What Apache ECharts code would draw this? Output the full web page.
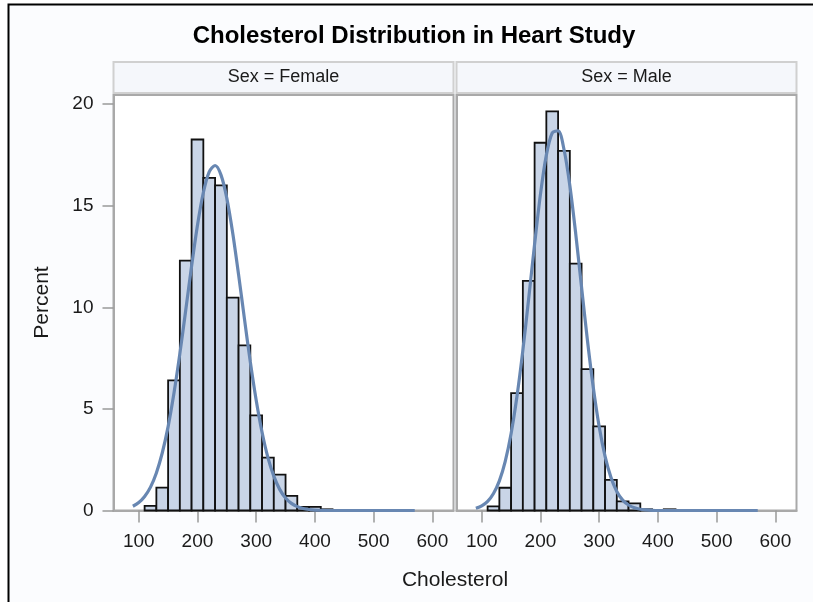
<!DOCTYPE html>
<html><head><meta charset="utf-8">
<script src="https://cdn.jsdelivr.net/npm/echarts@6/dist/echarts.min.js"></script>
<style>html,body{margin:0;padding:0;background:#fff}#c{width:813px;height:602px}</style>
</head><body><div id="c"></div>
<script>
const chartTitle = 'Cholesterol Distribution in Heart Study';
const panelLabels = ['Sex = Female', 'Sex = Male'];
const xTitle = 'Cholesterol';
const yTitle = 'Percent';
const binStarts = [110,130,150,170,190,210,230,250,270,290,310,330,350,370,390,410];
const binWidth = 20;
const femalePct = [0.23,1.13,6.4,12.3,18.26,16.37,16.0,10.48,8.13,4.68,2.6,1.77,0.72,0.18,0.18,0.06];
const malePct   = [0.2,1.12,5.78,11.3,18.1,19.64,17.7,12.15,6.96,4.14,1.51,0.45,0.35,0.06,0,0.06];
const curveX = [90,100,110,120,130,140,150,160,170,180,190,200,210,220,230,240,250,260,270,280,290,300,310,320,330,340,350,360,370,380,390,400,410,420,430,440,450,460,470,480,490,500,510,520,530,540,550,560,570];
const femaleCurve = [0.21,0.39,0.69,1.15,1.85,2.83,4.13,5.78,7.72,9.86,12.03,14.04,15.65,16.67,16.98,16.52,15.37,13.66,11.61,9.43,7.31,5.43,3.85,2.60,1.69,1.04,0.62,0.35,0.19,0.10,0.05,0.02,0.01,0,0,0,0,0,0,0,0,0,0,0,0,0,0,0,0];
const maleCurve   = [0.11,0.23,0.45,0.84,1.46,2.42,3.79,5.62,7.88,10.45,13.11,15.57,17.49,18.58,18.69,17.78,16.00,13.63,10.98,8.37,6.04,4.12,2.66,1.63,0.94,0.51,0.27,0.13,0.06,0.03,0.01,0,0,0,0,0,0,0,0,0,0,0,0,0,0,0,0,0,0];
const xTicks = [100,200,300,400,500,600];
const yTicks = [0,5,10,15,20];

const FONT = 'Liberation Sans, Arial, sans-serif';
const panels = [
  {left:113.5, pct:femalePct, curve:femaleCurve, label:panelLabels[0]},
  {left:456.5, pct:malePct, curve:maleCurve, label:panelLabels[1]}
];
const PW = 340, PT = 95, PH = 415.5;

const chart = echarts.init(document.getElementById('c'), null, {renderer:'canvas'});

function barRender(params, api){
  const p0 = api.coord([api.value(0), api.value(2)]);
  const p1 = api.coord([api.value(1), 0]);
  return {type:'rect', shape:{x:p0[0], y:p0[1], width:p1[0]-p0[0], height:p1[1]-p0[1]},
    style:{fill:'#c9d5e7', stroke:'#111', lineWidth:1.8}};
}

const grid = panels.map(p => ({left:p.left, top:PT, width:PW, height:PH, show:true,
  borderColor:'#a9a9a9', borderWidth:2, backgroundColor:'#fff'}));
const xAxis = panels.map((p,i) => ({type:'value', gridIndex:i, min:57, max:636,
  axisLine:{show:true, lineStyle:{color:'#a9a9a9', width:2}},
  axisTick:{show:true, customValues:xTicks, length:12, lineStyle:{color:'#999', width:1.5}},
  axisLabel:{show:true, customValues:xTicks, margin:22, fontSize:19, color:'#1a1a1a', fontFamily:FONT},
  splitLine:{show:false}}));
const yAxis = panels.map((p,i) => ({type:'value', gridIndex:i, min:0, max:20.45,
  axisLine:{show:true, lineStyle:{color:'#a9a9a9', width:2}},
  axisTick:{show:i===0, customValues:yTicks, length:11, lineStyle:{color:'#999', width:1.5}},
  axisLabel:{show:i===0, customValues:yTicks, margin:20, fontSize:19, color:'#1a1a1a', fontFamily:FONT},
  splitLine:{show:false}}));

const series = [];
panels.forEach((p,i) => {
  series.push({type:'custom', xAxisIndex:i, yAxisIndex:i, renderItem:barRender,
    encode:{x:[0,1], y:2}, z:2,
    data: binStarts.map((s,k)=>[s, s+binWidth, p.pct[k]]).filter(d=>d[2]>0)});
  series.push({type:'line', xAxisIndex:i, yAxisIndex:i, z:3, showSymbol:false, smooth:0.3,
    lineStyle:{color:'#6887b2', width:3.2}, data: curveX.map((x,k)=>[x, p.curve[k]])});
});

const graphic = [
  {type:'rect', z:-10, shape:{x:9, y:5, width:804, height:597}, style:{fill:'#fbfcfe'}},
  {type:'polyline', z:10, shape:{points:[[8.5,602],[8.5,4.5],[813,4.5]]}, style:{stroke:'#000', lineWidth:2, fill:null}},
  {type:'text', x:414, y:36, style:{text:chartTitle, font:'bold 24px '+FONT, fill:'#000', textAlign:'center', textVerticalAlign:'middle'}},
  {type:'text', x:42, y:302.5, rotation:Math.PI/2, style:{text:yTitle, font:'21px '+FONT, fill:'#1a1a1a', textAlign:'center', textVerticalAlign:'middle'}},
  {type:'text', x:455, y:580, style:{text:xTitle, font:'21px '+FONT, fill:'#1a1a1a', textAlign:'center', textVerticalAlign:'middle'}}
];
panels.forEach(p => {
  graphic.push({type:'rect', shape:{x:p.left, y:62, width:PW, height:31}, style:{fill:'#f5f7fb', stroke:'#d0d0d0', lineWidth:2}});
  graphic.push({type:'text', x:p.left+PW/2, y:77.5, style:{text:p.label, font:'18px '+FONT, fill:'#1a1a1a', textAlign:'center', textVerticalAlign:'middle'}});
});

chart.setOption({animation:false, backgroundColor:'#fff', grid, xAxis, yAxis, series, graphic});
</script></body></html>
